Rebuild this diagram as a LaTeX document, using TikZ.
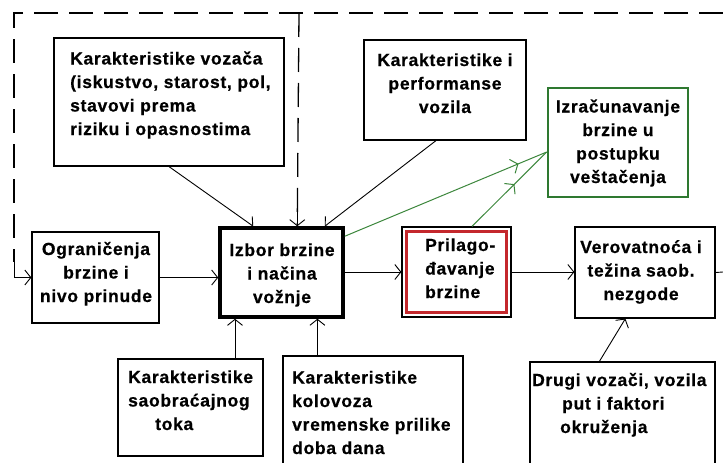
\documentclass[tikz,border=0pt]{standalone}
\usepackage{fontspec}
\setmainfont{Liberation Sans}[LetterSpace=4.0, BoldFeatures={FakeBold=0.6}]
\usetikzlibrary{arrows.meta,decorations.markings,calc}
\definecolor{grn}{RGB}{46,120,48}
\definecolor{grnline}{RGB}{60,135,60}
\definecolor{rd}{RGB}{196,40,45}
\begin{document}
\begin{tikzpicture}[x=1pt,y=-1pt,
  box/.style={draw, line width=1.2pt, inner sep=0pt, fill=white},
  txt/.style={font=\bfseries\fontsize{17.5}{23.5}\selectfont, inner sep=0pt},
  arr/.style={line width=0.9pt, -{Straight Barb[length=6pt,width=15pt]}},
  fb/.style={line width=1.3pt, dash pattern=on 24pt off 11pt},
  garr/.style={grnline, line width=1pt, postaction={decorate},
    decoration={markings, mark=at position #1 with {\arrow{Straight Barb[length=6pt,width=15pt]}}}}]
\useasboundingbox (0,0) rectangle (723,463);
\clip (0,0) rectangle (723,463);
\fill[white] (0,0) rectangle (723,463);

% boxes
\node[box, minimum width=230, minimum height=128] (vozaca) at (169,102) {};
\node[box, minimum width=162, minimum height=100] (vozila) at (445,90) {};
\node[box, draw=grn, line width=2.6pt, minimum width=140, minimum height=109] (izr) at (618,142.5) {};
\node[box, minimum width=127, minimum height=91] (ogr) at (95.5,277.5) {};
\node[box, line width=3.5pt, minimum width=123, minimum height=89] (izbor) at (281.5,272.5) {};
\node[box, minimum width=109, minimum height=90] (prilag) at (456.5,272) {};
\draw[rd, line width=3pt] ([shift={(5,5)}]prilag.north west) rectangle ([shift={(-5,-5)}]prilag.south east);
\node[box, minimum width=140, minimum height=91] (verov) at (645,272.5) {};
\node[box, minimum width=145, minimum height=97] (saob) at (190.5,407.5) {};
\node[box, minimum width=180, minimum height=124] (kolov) at (373,418) {};
\node[box, minimum width=185, minimum height=118] (drugi) at (622.5,421) {};

% texts (anchor base = baseline of the last line)
\node[txt, anchor=base west, align=left] (vozacaT) at (70,135) {Karakteristike vozača\\(iskustvo, starost, pol,\\stavovi prema\\riziku i opasnostima};
\node[txt, anchor=base, align=center] (vozilaT) at (445,113) {Karakteristike i\\performanse\\vozila};
\node[txt, anchor=base, align=center] (izrT) at (618,183) {Izračunavanje\\brzine u\\postupku\\veštačenja};
\node[txt, anchor=base, align=center] (ogrT) at (96,302) {Ograničenja\\brzine i\\nivo prinude};
\node[txt, anchor=base, align=center] (izborT) at (282,303) {Izbor brzine\\i načina\\vožnje};
\node[txt, anchor=base west, align=left] (prilagT) at (425,298) {Prilago-\\đavanje\\brzine};
\node[txt, anchor=base, align=center] (verovT) at (641,300) {Verovatnoća i\\težina saob.\\nezgode};
\node[txt, anchor=base west, align=left] (saobT) at (128,430) {Karakteristike\\saobraćajnog\\\hspace*{27pt}toka};
\node[txt, anchor=base west, align=left] (kolovT) at (292,454) {Karakteristike\\kolovoza\\vremenske prilike\\doba dana};
\node[txt, anchor=base west, align=left] (drugiT) at (532,433) {Drugi vozači, vozila\\\hspace*{30pt}put i faktori\\\hspace*{28pt}okruženja};

% feedback frame
\coordinate (fbR) at (723,13);
\coordinate (fbTL) at (14,13);
\coordinate (fbTop) at (299,13);
\coordinate (fbLow) at (14,262);
\coordinate (exitR) at (723,272);
\draw[fb] (fbR) -- (fbTL) -- (fbLow);
\draw[arr] (fbLow) -- (fbLow |- ogr.west) -- (ogr.west);
\draw[fb] (fbTop) -- ([xshift=79]izbor.north west);
\draw[arr] ([xshift=79,yshift=22]izbor.north west) -- ([xshift=79]izbor.north west);

% connectors
\draw[arr] (vozaca.south) -- ([xshift=35]izbor.north west);
\draw[arr] ([xshift=-9]vozila.south) -- ([xshift=-20]izbor.north east);
\draw[arr] (ogr.east) -- (ogr.east -| izbor.west);
\draw[arr] ([xshift=44.5]saob.north) coordinate (s1) -- (s1 |- izbor.south);
\draw[arr] ([xshift=35]kolov.north west) coordinate (k1) -- (k1 |- izbor.south);
\draw[arr] (izbor.east |- prilag.west) -- (prilag.west);
\draw[arr] (prilag.east) -- (prilag.east -| verov.west);
\draw[line width=0.9pt] (verov.east) -- (exitR);
\draw[arr] ([xshift=70]drugi.north west) -- ([xshift=51]verov.south west);

% green connectors
\draw[garr=0.86] ([yshift=-10]izbor.north east) -- ([yshift=-9.5]izr.west);
\draw[garr=0.57] ([xshift=15.5]prilag.north) -- ([yshift=-9.5]izr.west);
\end{tikzpicture}
\end{document}
